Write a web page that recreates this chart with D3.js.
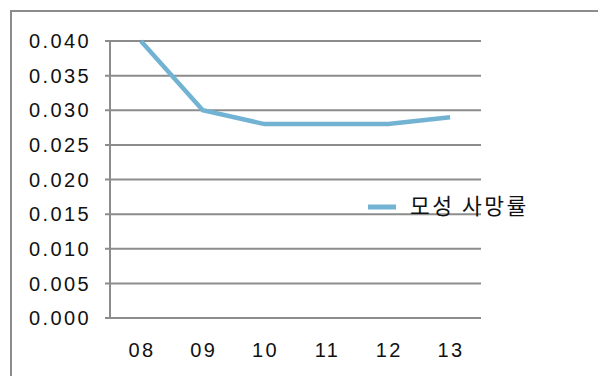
<!DOCTYPE html>
<html>
<head>
<meta charset="utf-8">
<script src="https://cdn.jsdelivr.net/npm/d3@7"></script>
<style>
  html, body { margin: 0; padding: 0; background: #fff; }
  svg text { font-family: "Liberation Sans", Arial, sans-serif; fill: #111; }
</style>
</head>
<body>
<svg id="chart" width="598" height="376"></svg>
<script>
// Maternal mortality rate by year
const years = ["08", "09", "10", "11", "12", "13"];
const rates = [0.040, 0.030, 0.028, 0.028, 0.028, 0.029];
const yTicks = [0, 0.005, 0.010, 0.015, 0.020, 0.025, 0.030, 0.035, 0.040];
const seriesName = "모성 사망률";

const svg = d3.select("#chart");
const gridColor = "#8c8c8c";
const lineColor = "#72b3d3";

// chart frame (top and left edges)
svg.append("path")
  .attr("d", "M11,376 L11,11 L598,11")
  .attr("fill", "none")
  .attr("stroke", gridColor)
  .attr("stroke-width", 2);

const plot = { left: 110, right: 481, top: 41, bottom: 318 };

const x = d3.scaleBand().domain(years).range([plot.left, plot.right]);
const y = d3.scaleLinear().domain([0, 0.040]).range([plot.bottom, plot.top]);

// horizontal gridlines with short tick stubs
const grid = svg.append("g");
grid.selectAll("line")
  .data(yTicks)
  .join("line")
  .attr("x1", plot.left - 5)
  .attr("x2", plot.right)
  .attr("y1", d => y(d))
  .attr("y2", d => y(d))
  .attr("stroke", gridColor)
  .attr("stroke-width", 2);

// vertical axis line
svg.append("line")
  .attr("x1", plot.left).attr("x2", plot.left)
  .attr("y1", plot.top).attr("y2", plot.bottom)
  .attr("stroke", gridColor)
  .attr("stroke-width", 2);

// y tick labels
svg.append("g").selectAll("text")
  .data(yTicks)
  .join("text")
  .attr("x", 91)
  .attr("y", d => y(d))
  .attr("dy", "0.36em")
  .attr("text-anchor", "end")
  .attr("font-size", 20)
  .attr("letter-spacing", 2.4)
  .text(d => d3.format(".3f")(d));

// x tick labels
svg.append("g").selectAll("text")
  .data(years)
  .join("text")
  .attr("x", d => x(d) + x.bandwidth() / 2 + 1)
  .attr("y", 357)
  .attr("text-anchor", "middle")
  .attr("font-size", 20)
  .attr("letter-spacing", 2.4)
  .text(d => d);

// data line
const line = d3.line()
  .x((d, i) => x(years[i]) + x.bandwidth() / 2)
  .y(d => y(d));

svg.append("path")
  .datum(rates)
  .attr("d", line)
  .attr("fill", "none")
  .attr("stroke", lineColor)
  .attr("stroke-width", 4.5)
  .attr("stroke-linejoin", "miter");

// legend
const legend = svg.append("g").attr("transform", "translate(368,207)");
legend.append("line")
  .attr("x1", 0).attr("x2", 28)
  .attr("y1", 0).attr("y2", 0)
  .attr("stroke", lineColor)
  .attr("stroke-width", 5);
legend.append("text")
  .attr("x", 42)
  .attr("y", -1)
  .attr("dy", "0.36em")
  .attr("font-size", 21.5)
  .attr("letter-spacing", 2.5)
  .style("font-family", "'Noto Sans CJK KR', sans-serif")
  .text(seriesName);
</script>
</body>
</html>
